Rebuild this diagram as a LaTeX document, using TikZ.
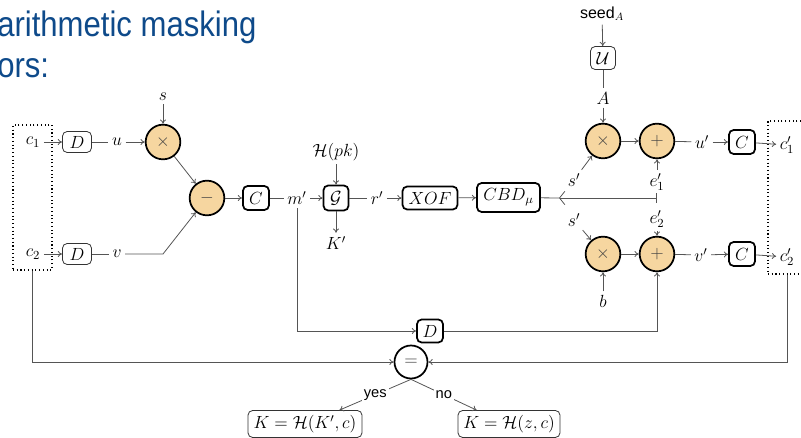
\RequirePackage{fix-cm}
\documentclass[tikz,border=0pt]{standalone}
\usepackage{fontspec}
\usepackage{amsmath}
\usepackage{graphicx}
\newfontfamily\titlefont{Liberation Sans}
\usetikzlibrary{arrows.meta,calc}
\definecolor{titleblue}{RGB}{14,74,138}
\definecolor{opfill}{RGB}{246,214,160}
\definecolor{linegray}{RGB}{85,85,85}
\begin{document}
\begin{tikzpicture}[x=0.75pt,y=-0.75pt,
  >={To[length=3.2pt,width=4.5pt]},
  every node/.style={font=\fontsize{13.2}{15}\selectfont},
  lbl/.style={inner sep=2.5pt},
  thinbox/.style={draw=black!80, line width=0.6pt, rounded corners=3.5pt, inner sep=0pt},
  thickbox/.style={draw=black, line width=1.3pt, rounded corners=3.5pt, inner sep=0pt},
  opnode/.style={circle, draw=black, line width=1.3pt, fill=opfill, minimum size=26pt, inner sep=0pt, text=black!75},
  conn/.style={draw=linegray, line width=0.6pt},
  dotbox/.style={draw=black, dotted, line width=0.8pt, inner sep=0pt},
  sanslbl/.style={font=\titlefont\fontsize{11}{13}\selectfont}
]
\useasboundingbox (0,0) rectangle (801,438);
\clip (0,0) rectangle (801,438);

% title fragments
\node[anchor=base west, inner sep=0, text=titleblue, font=\titlefont\fontsize{26.5}{30}\selectfont] (t1) at (-3,37) {\scalebox{0.88}[1]{arithmetic masking}};
\node[anchor=base west, inner sep=0, text=titleblue, font=\titlefont\fontsize{26.5}{30}\selectfont] (t2) at (-3,78) {\scalebox{0.88}[1]{ors:}};

% dotted boxes
\node[dotbox, minimum width=29.25pt, minimum height=108.75pt] (lbox) at (32.5,197.5) {};
\node[dotbox, minimum width=29.25pt, minimum height=114.75pt] (rbox) at (787.5,197.5) {};

% left part
\node[lbl] (c1) at (33,142) {$c_1$};
\node[lbl] (c2) at (33,254) {$c_2$};
\node[thinbox, minimum width=21.75pt, minimum height=15.75pt] (d1) at (77,142) {$D$};
\node[thinbox, minimum width=21.75pt, minimum height=15.75pt] (d2) at (77,254) {$D$};
\node[lbl] (u) at (117,142) {$u$};
\node[lbl] (v) at (117,254) {$v$};
\node[opnode] (mul1) at (163,142) {$\times$};
\node[lbl] (s) at (163,97) {$s$};
\node[opnode] (sub) at (207,198) {$-$};
\node[thickbox, minimum width=19.5pt, minimum height=18pt] (cc1) at (256,198) {$C$};
\node[lbl] (m) at (297,198) {$m'$};
\node[thickbox, minimum width=18.75pt, minimum height=18.75pt] (g) at (336,198) {$\mathcal{G}$};
\node[lbl] (hpk) at (336,152) {$\mathcal{H}(pk)$};
\node[lbl] (kp) at (336,243) {$K'$};
\node[lbl] (r) at (377,198) {$r'$};
\node[thickbox, minimum width=41.25pt, minimum height=17.25pt] (xof) at (430,198) {$XOF$};
\node[thickbox, minimum width=47.25pt, minimum height=21.75pt] (cbd) at (508.5,197.5) {$CBD_\mu$};
\coordinate (br) at (559,198);
\coordinate (e1bar) at (657,198);

% right part
\node[lbl, font=\fontsize{12}{14}\selectfont] (seed) at (602,14) {\titlefont seed$_A$};
\node[thinbox, minimum width=18.75pt, minimum height=17.25pt] (U) at (603,58) {$\mathcal{U}$};
\node[lbl] (A) at (603,98) {$A$};
\node[opnode] (mul2) at (603,141) {$\times$};
\node[opnode] (add1) at (657,141) {$+$};
\node[lbl] (up) at (702,142) {$u'$};
\node[thickbox, minimum width=19.5pt, minimum height=18pt] (cc2) at (742,142) {$C$};
\node[lbl] (c1p) at (787,145) {$c'_1$};
\node[lbl] (sp1) at (574,180) {$s'$};
\node[lbl] (e1) at (657,182) {$e'_1$};
\node[lbl] (e2) at (657,219) {$e'_2$};
\node[lbl] (sp2) at (574,220) {$s'$};
\node[opnode] (mul3) at (603,254) {$\times$};
\node[opnode] (add2) at (657,254) {$+$};
\node[lbl] (vp) at (701,255) {$v'$};
\node[thickbox, minimum width=19.5pt, minimum height=18pt] (cc3) at (742,254) {$C$};
\node[lbl] (c2p) at (787,257) {$c'_2$};
\node[lbl] (b) at (603,301) {$b$};

% bottom
\node[thickbox, minimum width=19.5pt, minimum height=17.25pt] (dl) at (430,331) {$D$};
\node[circle, draw=black, line width=1.3pt, fill=white, minimum size=24.75pt, inner sep=0pt, text=black!75] (eq) at (411,362) {$=$};
\node[thinbox, minimum width=85.5pt, minimum height=20.25pt] (k1) at (305,424) {$K=\mathcal{H}(K',c)$};
\node[thinbox, minimum width=76.5pt, minimum height=20.25pt] (k2) at (509,424) {$K=\mathcal{H}(z,c)$};

% connectors left
\draw[conn,->] (c1) -- (d1);
\draw[conn] (d1) -- (u);
\draw[conn,->] (u) -- (mul1);
\draw[conn,->] (s) -- (mul1);
\draw[conn,->] (mul1) -- (sub);
\draw[conn,->] (c2) -- (d2);
\draw[conn] (d2) -- (v);
\coordinate (vb) at (163,254);
\draw[conn,->] (v) -- (vb) -- (sub);
\draw[conn,->] (sub) -- (cc1);
\draw[conn] (cc1) -- (m);
\draw[conn,->] (m) -- (g);
\draw[conn,->] (hpk) -- (g);
\draw[conn,->] (g) -- (kp);
\draw[conn] (g) -- (r);
\draw[conn,->] (r) -- (xof);
\draw[conn,->] (xof) -- (cbd);
\draw[conn] (cbd) -- (br);
\draw[conn,{Straight Barb[length=4pt,width=10pt]}-{Bar[width=7pt]}] (br) -- (e1bar);

% connectors right
\draw[conn,->] (seed) -- (U);
\draw[conn] (U) -- (A);
\draw[conn,->] (A) -- (mul2);
\draw[conn,->] (mul2) -- (add1);
\draw[conn] (add1) -- (up);
\draw[conn,->] (up) -- (cc2);
\draw[conn,->] (cc2) -- (c1p);
\draw[conn,->] (sp1) -- (mul2);
\draw[conn,->] (e1) -- (add1);
\draw[conn,->] (e2) -- (add2);
\draw[conn,->] (sp2) -- (mul3);
\draw[conn,->] (b) -- (mul3);
\draw[conn,->] (mul3) -- (add2);
\draw[conn] (add2) -- (vp);
\draw[conn,->] (vp) -- (cc3);
\draw[conn,->] (cc3) -- (c2p);

% connectors bottom
\draw[conn,->] (m) -- (m |- dl) -- (dl);
\draw[conn,->] (dl) -- (dl -| add2) -- (add2);
\draw[conn,->] (lbox) -- (lbox |- eq) -- (eq);
\draw[conn,->] (rbox) -- (rbox |- eq) -- (eq);
\draw[conn,->] (eq.south) -- node[fill=white, inner sep=1.5pt, sanslbl] {yes} ($(k1.north)!0.6!(k1.north east)$);
\draw[conn,->] (eq.south) -- node[fill=white, inner sep=1.5pt, sanslbl] {no} ($(k2.north)!0.63!(k2.north west)$);
\end{tikzpicture}
\end{document}
